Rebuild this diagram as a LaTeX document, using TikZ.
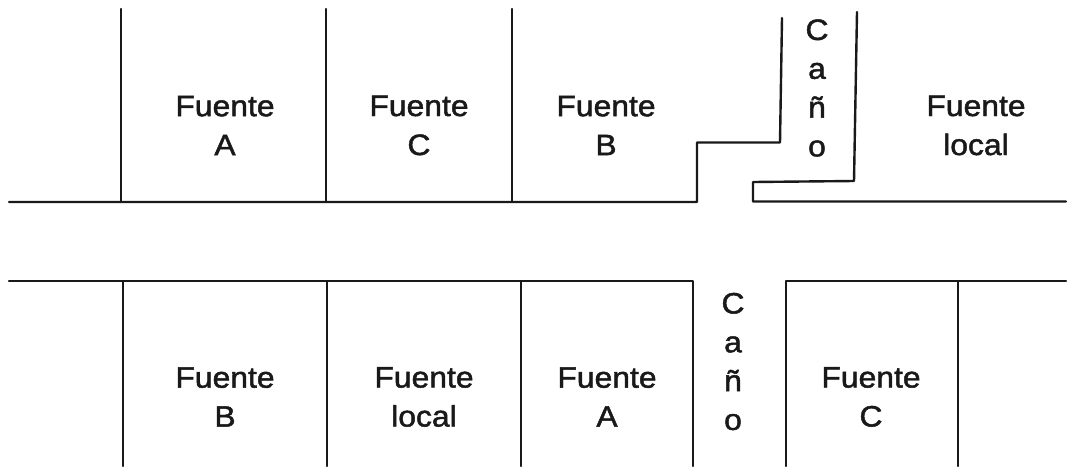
\documentclass[tikz,border=0pt]{standalone}
\usepackage{fontspec}
\setmainfont[FakeStretch=1.08,FakeBold=1.6]{Liberation Sans}
\begin{document}
\begin{tikzpicture}[x=1pt,y=-1pt,
  wall/.style={line width=2.4pt,line cap=round,line join=round,black!90},
  lbl/.style={font=\fontsize{29.5}{39}\selectfont,align=center,inner sep=0pt,text=black!90},
  canolbl/.style={font=\fontsize{29.5}{38.8}\selectfont,align=center,inner sep=0pt,text=black!90,text width=24pt}]
\useasboundingbox (0,0) rectangle (1070,469);
\draw[wall] (9,202) -- (697,202) -- (697,142.5) -- (780,142.5) -- (782,18);
\draw[wall] (121,9) -- (121,202);
\draw[wall] (326,9) -- (326,202);
\draw[wall] (512,9) -- (512,202);
\draw[wall] (857,12) -- (854,181) -- (753,182) -- (753,201.5) -- (1066,201.5);
\draw[wall] (9,281) -- (693,281) -- (693,466);
\draw[wall] (123,281) -- (123,466);
\draw[wall] (327,281) -- (327,466);
\draw[wall] (521,281) -- (521,466);
\draw[wall] (786,466) -- (786,281) -- (1066,281);
\draw[wall] (958,281) -- (958,466);
\node[lbl] (a1) at (225,125.5) {Fuente\\A};
\node[lbl] (c1) at (419,125.5) {Fuente\\C};
\node[lbl] (b1) at (606,125.5) {Fuente\\B};
\node[lbl] (l1) at (976,125.5) {Fuente\\local};
\node[canolbl] (k1) at (817,88) {C\\a\\ñ\\o};
\node[lbl] (b2) at (225,397) {Fuente\\B};
\node[lbl] (l2) at (424,397) {Fuente\\local};
\node[lbl] (a2) at (607,397) {Fuente\\A};
\node[canolbl] (k2) at (733,361.5) {C\\a\\ñ\\o};
\node[lbl] (c2) at (871,397) {Fuente\\C};
\end{tikzpicture}
\end{document}
